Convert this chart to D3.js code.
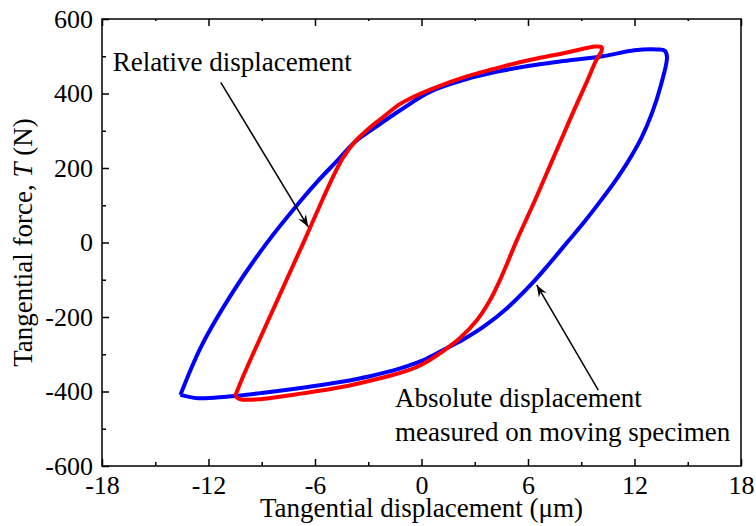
<!DOCTYPE html>
<html>
<head>
<meta charset="utf-8">
<script src="https://cdn.jsdelivr.net/npm/d3@7"></script>
<style>
  body { margin: 0; background: #fff; }
</style>
</head>
<body>
<div id="plot"></div>
<script>
// Absolute displacement loop (blue): x in µm, T in N
const blueX = [-13.58, -12.6, -11, -9, -6.7, -4.5, -2.9, -1.2, 0, 1.2, 2.4, 3.5, 4.8, 6.28, 7.2, 8.2, 9.2, 10.11, 10.87, 11.58, 12.39, 12.99, 13.49, 13.83,
  13.7, 13.3, 12, 10.2, 7.8, 6, 4.42, 2.5, 0.5, -1.2, -2.34, -3.75, -4.76, -5.78, -6.91, -8.71, -10.56, -12.42, -13.58];
const blueT = [-409, -418, -414, -404, -390, -374, -359, -338, -318, -289, -259, -226, -177, -107, -57, 0, 57, 113, 162, 213, 281, 348, 423, 498,
  515, 518, 516, 500, 486, 474, 460, 438, 405, 355, 318, 270, 219, 168, 106, -1, -128, -280, -409];

// Relative displacement loop (red)
const redX = [-10.5, -10.2, -9, -6.7, -4.5, -2.9, -1.2, 0, 1.2, 2.2, 3.13, 3.8, 4.42, 5.38, 6.4, 7.3, 8.0, 8.6, 9.3, 9.85, 10.15,
  10.15, 9.8, 8.2, 6.5, 5.36, 4, 2.55, 0.67, -0.5, -1.2, -2.34, -3.0, -3.75, -4.42, -5.0, -5.55, -6.6, -7.6, -8.55, -9.5, -10.1, -10.5];
const redT = [-412, -421, -420, -405, -388, -371, -350, -328, -292, -255, -208, -160, -101, 7, 114, 213, 290, 356, 430, 490, 515,
  524, 526, 510, 494, 482, 465, 446, 414, 390, 372, 330, 305, 271, 228, 175, 118, 5, -100, -200, -300, -365, -412];

const xMajor = [-18, -12, -6, 0, 6, 12, 18];
const xMinor = [-15, -9, -3, 3, 9, 15];
const yMajor = [-600, -400, -200, 0, 200, 400, 600];
const yMinor = [-500, -300, -100, 100, 300, 500];

const serif = '"Liberation Serif", "Times New Roman", "DejaVu Serif", serif';

const width = 756;
const height = 526;
const margin = { top: 19, right: 15, bottom: 60, left: 102 };
const innerW = width - margin.left - margin.right;
const innerH = height - margin.top - margin.bottom;

const svg = d3.select('#plot')
  .append('svg')
  .attr('width', width)
  .attr('height', height)
  .attr('font-family', serif);

const defs = svg.append('defs');
defs.append('marker')
  .attr('id', 'arrow')
  .attr('viewBox', '-12 -5 13 10')
  .attr('refX', 0)
  .attr('refY', 0)
  .attr('markerWidth', 13)
  .attr('markerHeight', 10)
  .attr('markerUnits', 'userSpaceOnUse')
  .attr('orient', 'auto')
  .append('path')
  .attr('d', 'M0,0 L-12,-4.5 L-8,0 L-12,4.5 Z')
  .attr('fill', '#000');

const g = svg.append('g')
  .attr('transform', `translate(${margin.left},${margin.top})`);

const x = d3.scaleLinear().domain([-18, 18]).range([0, innerW]);
const y = d3.scaleLinear().domain([-600, 600]).range([innerH, 0]);

const fmt = d => String(d).replace('\u2212', '-');

// Axes: major + minor ticks, all pointing inwards
function styleAxis(sel) {
  sel.attr('font-family', serif);
  sel.select('.domain').remove();
  sel.selectAll('line').attr('stroke', '#000').attr('stroke-width', 1.5);
  sel.selectAll('text')
    .attr('fill', '#000')
    .style('font-family', serif)
    .style('font-size', '26px');
}

g.append('g')
  .attr('transform', `translate(0,${innerH})`)
  .call(d3.axisBottom(x).tickValues(xMajor).tickFormat(fmt).tickSizeInner(-7).tickSizeOuter(0).tickPadding(10))
  .call(styleAxis);
g.append('g')
  .attr('transform', `translate(0,${innerH})`)
  .call(d3.axisBottom(x).tickValues(xMinor).tickFormat('').tickSizeInner(-4).tickSizeOuter(0))
  .call(styleAxis);
g.append('g')
  .call(d3.axisTop(x).tickValues(xMajor).tickFormat('').tickSizeInner(-7).tickSizeOuter(0))
  .call(styleAxis);
g.append('g')
  .call(d3.axisTop(x).tickValues(xMinor).tickFormat('').tickSizeInner(-2).tickSizeOuter(0))
  .call(styleAxis);

g.append('g')
  .call(d3.axisLeft(y).tickValues(yMajor).tickFormat(fmt).tickSizeInner(-7).tickSizeOuter(0).tickPadding(9))
  .call(styleAxis);
g.append('g')
  .call(d3.axisLeft(y).tickValues(yMinor).tickFormat('').tickSizeInner(-4).tickSizeOuter(0))
  .call(styleAxis);

// Frame
g.append('rect')
  .attr('x', 0)
  .attr('y', 0)
  .attr('width', innerW)
  .attr('height', innerH)
  .attr('fill', 'none')
  .attr('stroke', '#000')
  .attr('stroke-width', 1.5);

// Loops
const line = d3.line()
  .x(d => x(d[0]))
  .y(d => y(d[1]))
  .curve(d3.curveCatmullRom.alpha(0.5));

const bluePts = blueX.map((v, i) => [v, blueT[i]]);
const redPts = redX.map((v, i) => [v, redT[i]]);

g.append('path')
  .datum(bluePts)
  .attr('d', line)
  .attr('fill', 'none')
  .attr('stroke', '#0000FF')
  .attr('stroke-width', 4)
  .attr('stroke-linejoin', 'round');

g.append('path')
  .datum(redPts)
  .attr('d', line)
  .attr('fill', 'none')
  .attr('stroke', '#FF0000')
  .attr('stroke-width', 4)
  .attr('stroke-linejoin', 'round');

// Annotations
const arrows = [
  { from: [-11.31, 430], to: [-6.38, 42] },
  { from: [9.96, -396], to: [6.49, -114] }
];
g.selectAll('line.arrow')
  .data(arrows)
  .enter()
  .append('line')
  .attr('class', 'arrow')
  .attr('x1', d => x(d.from[0]))
  .attr('y1', d => y(d.from[1]))
  .attr('x2', d => x(d.to[0]))
  .attr('y2', d => y(d.to[1]))
  .attr('stroke', '#000')
  .attr('stroke-width', 1.5)
  .attr('marker-end', 'url(#arrow)');

const notes = [
  { text: 'Relative displacement', at: [-17.4, 461] },
  { text: 'Absolute displacement', at: [-1.49, -441] },
  { text: 'measured on moving specimen', at: [-1.49, -532] }
];
g.selectAll('text.note')
  .data(notes)
  .enter()
  .append('text')
  .attr('class', 'note')
  .attr('x', d => x(d.at[0]))
  .attr('y', d => y(d.at[1]))
  .style('font-family', serif)
  .style('font-size', '27px')
  .text(d => d.text);

// Axis titles
svg.append('text')
  .attr('text-anchor', 'middle')
  .attr('x', margin.left + innerW / 2)
  .attr('y', 517)
  .style('font-family', serif)
  .style('font-size', '27px')
  .text('Tangential displacement (\u03BCm)');

const yTitle = svg.append('text')
  .attr('text-anchor', 'middle')
  .attr('transform', `translate(32,${margin.top + innerH / 2}) rotate(-90)`)
  .style('font-family', serif)
  .style('font-size', '27px');
yTitle.append('tspan').text('Tangential force, ');
yTitle.append('tspan').style('font-style', 'italic').text('T');
yTitle.append('tspan').text(' (N)');
</script>
</body>
</html>
